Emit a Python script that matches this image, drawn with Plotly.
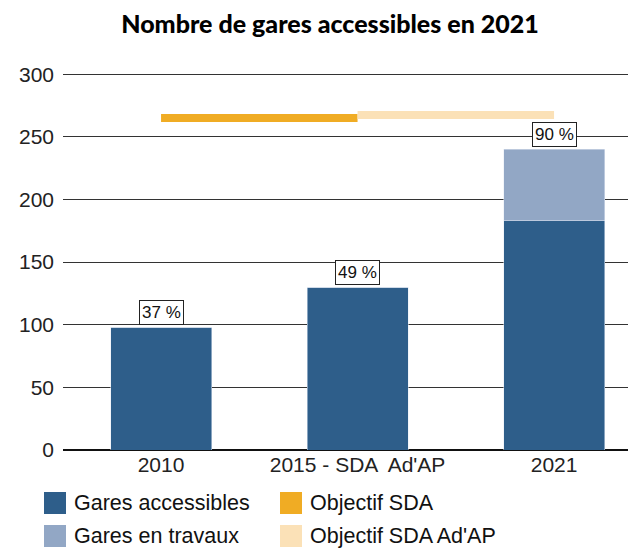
import plotly.graph_objects as go

# ---- data ----
categories = ["2010", "2015 - SDA  Ad'AP", "2021"]
gares_accessibles = [98, 130, 183]
gares_travaux = [0, 0, 57]
pourcentages = ["37 %", "49 %", "90 %"]
objectif_sda_x = ["2010", "2015 - SDA  Ad'AP"]
objectif_sda = [265, 265]
objectif_adap_x = ["2015 - SDA  Ad'AP", "2021"]
objectif_adap = [267.5, 267.5]
legend_labels = ["Gares accessibles", "Objectif SDA", "Gares en travaux", "Objectif SDA Ad'AP"]

C_ACC = "#2E5E8A"
C_TRAV = "#92A7C5"
C_SDA = "#F0AC24"
C_ADAP = "#FBE1B7"
legend_colors = [C_ACC, C_SDA, C_TRAV, C_ADAP]

OFF = 8  # page body margin
W, H = 636 - OFF, 548 - OFF
L, R, T, B = 63 - OFF, 0, 73 - OFF, 98
PW, PH = W - L - R, H - T - B

def px(x):
    return (x - OFF - L) / PW

def py(y):
    return (H - B - (y - OFF)) / PH

FONT = "Liberation Sans, Arial, sans-serif"

fig = go.Figure()
fig.add_trace(go.Bar(x=categories, y=gares_accessibles, marker_color=C_ACC,
                     width=0.514, showlegend=False, name=legend_labels[0]))
fig.add_trace(go.Bar(x=categories, y=gares_travaux, marker_color=C_TRAV,
                     width=0.514, showlegend=False, name=legend_labels[2]))
fig.add_trace(go.Scatter(x=objectif_sda_x, y=objectif_sda, mode="lines",
                         line=dict(color=C_SDA, width=8), showlegend=False,
                         name=legend_labels[1]))
fig.add_trace(go.Scatter(x=objectif_adap_x, y=objectif_adap, mode="lines",
                         line=dict(color=C_ADAP, width=8), showlegend=False,
                         name=legend_labels[3]))

# percentage labels
for i, (a, t, p) in enumerate(zip(gares_accessibles, gares_travaux, pourcentages)):
    fig.add_annotation(x=i, y=a + t, text=p, showarrow=False, yanchor="bottom",
                       yshift=2, font=dict(family=FONT, size=17, color="#111"),
                       bgcolor="white", bordercolor="#222", borderwidth=1, borderpad=2)

# manual legend
swatch_x = [44, 280, 44, 280]
swatch_y = [492, 492, 525, 525]
for lab, col, sx, sy in zip(legend_labels, legend_colors, swatch_x, swatch_y):
    fig.add_shape(type="rect", xref="paper", yref="paper",
                  x0=px(sx), x1=px(sx + 22), y0=py(sy + 22), y1=py(sy),
                  fillcolor=col, line=dict(width=0), layer="above")
    fig.add_annotation(xref="paper", yref="paper", x=px(sx + 28), y=py(sy + 11),
                       text=lab, showarrow=False, xanchor="left", yanchor="middle",
                       font=dict(family=FONT, size=21.5, color="#111"))

fig.update_layout(
    width=W, height=H,
    margin=dict(l=L, r=R, t=T, b=B),
    paper_bgcolor="white", plot_bgcolor="white",
    barmode="stack",
    title=dict(text="Nombre de gares accessibles en 2021", x=(330 - OFF) / W,
               xanchor="center", y=1 - (24 - OFF) / H, yanchor="middle",
               font=dict(family="Lato, sans-serif", size=25, color="#000", weight=900)),
    xaxis=dict(type="category", range=[-0.499, 2.417], showgrid=False,
               tickfont=dict(family=FONT, size=21, color="#222"),
               ticks="", showline=False, zeroline=False),
    yaxis=dict(range=[0, 301], tickvals=[0, 50, 100, 150, 200, 250, 300],
               showgrid=True, gridcolor="#333", gridwidth=1.3,
               zeroline=True, zerolinecolor="#111", zerolinewidth=2,
               tickfont=dict(family=FONT, size=21, color="#222"),
               ticks="", ticklabelstandoff=8),
)

fig.write_html("out.html")
